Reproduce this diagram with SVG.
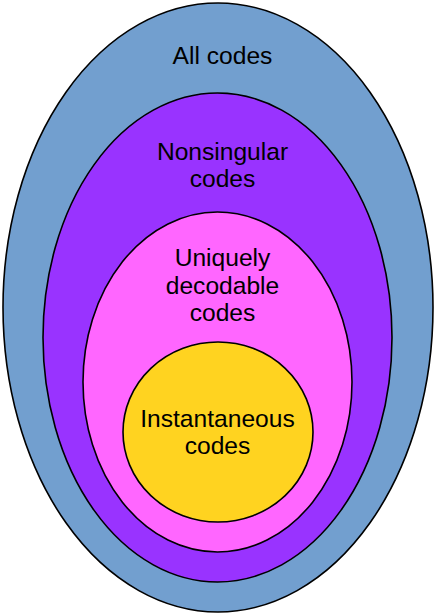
<svg xmlns="http://www.w3.org/2000/svg" width="436" height="614" viewBox="0 0 436 614">
<style>
ellipse{stroke:#000;stroke-width:1.6}
text{font-family:"Liberation Sans",Arial,sans-serif;font-size:24.6px;fill:#000;text-anchor:middle}
</style>
<rect width="436" height="614" fill="#fff"/>
<g id="all-codes">
<ellipse cx="218" cy="307.5" rx="215" ry="304.5" fill="#729fcf"/>
<text x="222.5" y="63.5">All codes</text>
</g>
<g id="nonsingular">
<ellipse cx="217.5" cy="337.5" rx="174.5" ry="244.5" fill="#9933ff"/>
<text x="222.5" y="160">Nonsingular</text>
<text x="222.5" y="187">codes</text>
</g>
<g id="uniquely-decodable">
<ellipse cx="217.5" cy="382" rx="134.5" ry="170" fill="#ff66ff"/>
<text x="222.5" y="266">Uniquely</text>
<text x="222.5" y="293.5">decodable</text>
<text x="222.5" y="321">codes</text>
</g>
<g id="instantaneous">
<ellipse cx="218" cy="432" rx="95" ry="90" fill="#ffd320"/>
<text x="217.5" y="426.5">Instantaneous</text>
<text x="217.5" y="454">codes</text>
</g>
<g id="connectors"/>
</svg>
